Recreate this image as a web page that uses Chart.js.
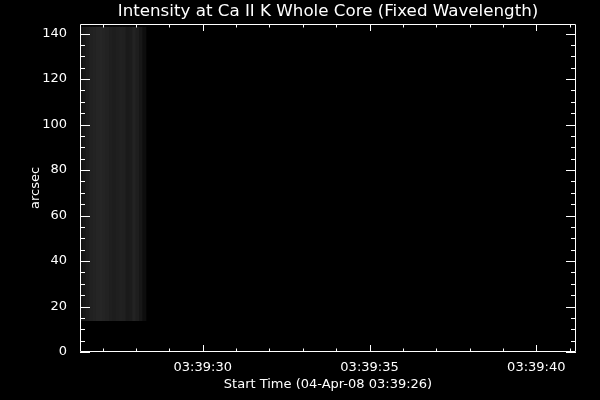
<!DOCTYPE html>
<html>
<head>
<meta charset="utf-8">
<script src="https://cdn.jsdelivr.net/npm/chart.js@4/dist/chart.umd.min.js"></script>
<style>
html, body { margin: 0; padding: 0; background: #000; }
#wrap { width: 600px; height: 400px; }
</style>
</head>
<body>
<div id="wrap"><canvas id="chart"></canvas></div>
<script>
// titles
const titleText = "Intensity at Ca II K Whole Core (Fixed Wavelength)";
const xTitle = "Start Time (04-Apr-08 03:39:26)";
const yTitle = "arcsec";

// axis ranges (x in seconds after 03:39:00)
const xMin = 26.32, xMax = 41.19;
const yMin = 0, yMax = 144.2;

// image columns: time of each exposure and its grey level
const colTimes = [26.35, 26.45, 26.55, 26.65, 26.75, 26.85, 26.95, 27.05, 27.15, 27.25,
                  27.35, 27.45, 27.55, 27.65, 27.75, 27.85, 27.95, 28.05, 28.15, 28.25];
const colGray  = [18, 24, 29, 33, 35, 37, 38, 36, 34, 31,
                  29, 31, 33, 32, 26, 28, 35, 30, 23, 13];
// slit extent in arcsec
const slitBottom = 13.8, slitTop = 142.9;
// faint darker rows across the image
const darkRows = [33.7, 50.5, 63.0, 108.0];

const datasets = [];
datasets.push({
    data: colTimes.map(t => ({ x: t, y: [slitBottom, slitTop] })),
    backgroundColor: colGray.map(g => `rgb(${g},${g},${g})`)
});
darkRows.forEach(r => {
    datasets.push({
        data: colTimes.map(t => ({ x: t, y: [r - 0.25, r + 0.25] })),
        backgroundColor: "rgba(0,0,0,0.3)"
    });
});

const pad2 = v => (v < 10 ? "0" : "") + v;

// IDL style box with inward ticks, plus the title
const boxPlugin = {
    id: "box",
    afterDraw(chart) {
        const { ctx, chartArea: a, scales: { x, y } } = chart;
        ctx.save();
        ctx.strokeStyle = "#fff";
        ctx.lineWidth = 1;
        ctx.beginPath();
        ctx.rect(a.left + 0.5, a.top + 0.5, a.right - a.left - 1, a.bottom - a.top - 1);
        x.ticks.forEach(t => {
            const px = Math.round(x.getPixelForValue(t.value)) + 0.5;
            const len = t.value % 5 === 0 ? 7 : 3.5;
            ctx.moveTo(px, a.bottom); ctx.lineTo(px, a.bottom - len);
            ctx.moveTo(px, a.top); ctx.lineTo(px, a.top + len);
        });
        y.ticks.forEach(t => {
            const py = Math.round(y.getPixelForValue(t.value)) + 0.5;
            const len = t.value % 20 === 0 ? 10 : 5;
            ctx.moveTo(a.left, py); ctx.lineTo(a.left + len, py);
            ctx.moveTo(a.right, py); ctx.lineTo(a.right - len, py);
        });
        ctx.stroke();
        ctx.fillStyle = "#fff";
        ctx.font = "16.7px 'DejaVu Sans'";
        ctx.textAlign = "center";
        ctx.textBaseline = "middle";
        ctx.fillText(titleText, (a.left + a.right) / 2, 12);
        ctx.restore();
    }
};

const config = {
    type: "bar",
    data: { datasets },
    options: {
        responsive: true,
        maintainAspectRatio: false,
        animation: false,
        events: [],
        layout: { padding: { top: 24, right: 24, left: 0, bottom: 0 } },
        datasets: {
            bar: { grouped: false, barPercentage: 1, categoryPercentage: 1, borderWidth: 0 }
        },
        plugins: { legend: { display: false }, tooltip: { enabled: false }, title: { display: false } },
        scales: {
            x: {
                type: "linear",
                min: xMin, max: xMax,
                offset: false,
                grid: { display: false },
                border: { display: false },
                ticks: {
                    stepSize: 1,
                    autoSkip: false,
                    includeBounds: false,
                    maxRotation: 0,
                    padding: 0,
                    color: "#fff",
                    font: { family: "DejaVu Sans", size: 13 },
                    callback: v => (v % 5 === 0 ? "03:39:" + pad2(v) : "")
                },
                title: {
                    display: true, text: xTitle, color: "#fff",
                    font: { family: "DejaVu Sans", size: 13 },
                    padding: { top: 0, bottom: 8 }
                },
                afterFit: s => { s.height = 48; }
            },
            y: {
                min: yMin, max: yMax,
                grid: { display: false },
                border: { display: false },
                ticks: {
                    stepSize: 5,
                    autoSkip: false,
                    includeBounds: false,
                    padding: 5,
                    color: "#fff",
                    font: { family: "DejaVu Sans", size: 13 },
                    callback: v => (v % 20 === 0 ? String(v) : "")
                },
                title: {
                    display: true, text: yTitle, color: "#fff",
                    font: { family: "DejaVu Sans", size: 13 },
                    padding: { top: 28, bottom: 0 }
                },
                afterFit: s => { s.width = 80; }
            }
        }
    },
    plugins: [boxPlugin]
};

new Chart(document.getElementById("chart"), config);
</script>
</body>
</html>
